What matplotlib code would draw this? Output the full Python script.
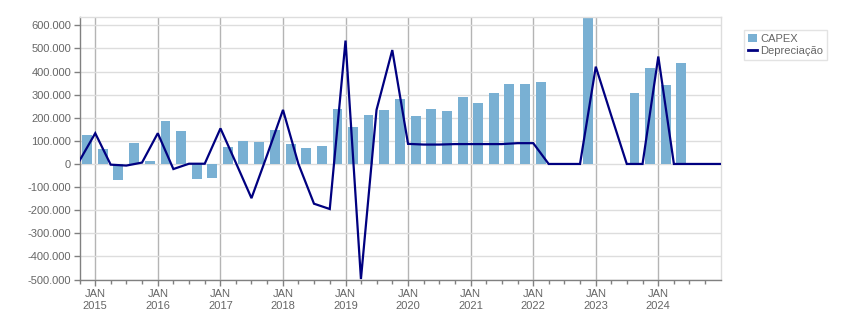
import matplotlib
matplotlib.use("Agg")
import matplotlib.pyplot as plt
import matplotlib.dates as mdates
from matplotlib.ticker import FuncFormatter, MultipleLocator
from matplotlib.patches import Patch
from matplotlib.lines import Line2D
import datetime as dt

# Quarterly CAPEX (bars, centred mid-quarter), Q4 2014 .. Q4 2024
capex_quarters = [(2014, 4)] + [(y, q) for y in range(2015, 2025) for q in (1, 2, 3, 4)]
capex = [125000,
         65000, -68000, 91000, 13000,
         186000, 143000, -65000, -61000,
         74000, 100000, 95000, 147000,
         87000, 69000, 78000, 238000,
         160000, 212000, 234000, 281000,
         208000, 238000, 229000, 290000,
         264000, 307000, 346000, 346000,
         355000, 0, 0, 632000,
         0, 2000, 307000, 416000,
         342000, 437000, 0, 0]

# Depreciação (line, at quarter boundaries), Oct 2014 .. Jan 2025
dep_dates = [(2014, 10)] + [(y, m) for y in range(2015, 2025) for m in (1, 4, 7, 10)] + [(2025, 1)]
depreciacao = [14000,
               133000, -3000, -7000, 6000,
               133000, -22000, 1000, 1000,
               154000, 5000, -148000, 40000,
               234000, 0, -172000, -195000,
               534000, -498000, 234000, 493000,
               87000, 84000, 84000, 86000,
               86000, 86000, 86000, 90000,
               90000, 0, 0, 0,
               421000, 210000, 0, 0,
               465000, 0, 0, 0,
               0]

year_labels = list(range(2015, 2025))

bar_x = [dt.date(y, 3 * q - 1, 15) for y, q in capex_quarters]
line_x = [dt.date(y, m, 1) for y, m in dep_dates]

BAR_C = "#79b0d3"
LINE_C = "#000080"
TXT_C = "#666666"

plt.rcParams['font.family'] = ['Liberation Sans', 'DejaVu Sans']

fig = plt.figure(figsize=(8.51, 3.13), dpi=100)
ax = fig.add_axes([79.5 / 851, 1 - 279.5 / 313, (721 - 79.5) / 851, (279.5 - 17) / 313])

ax.bar(bar_x, capex, width=58, color=BAR_C, zorder=2)
ax.plot(line_x, depreciacao, color=LINE_C, lw=1.6, zorder=3, solid_joinstyle='miter')

ax.set_xlim(dt.date(2014, 10, 1), dt.date(2025, 1, 1))
ax.set_ylim(-500000, 636000)

ax.yaxis.set_major_locator(MultipleLocator(100000))
ax.yaxis.set_major_formatter(FuncFormatter(lambda v, p: "0" if abs(v) < 1 else f"{int(round(v)):,}".replace(",", ".")))

ax.set_xticks([dt.date(y, 1, 1) for y in year_labels])
ax.set_xticklabels([f"JAN\n{y}" for y in year_labels])
ax.xaxis.set_minor_locator(mdates.MonthLocator(bymonth=[4, 7, 10]))

ax.grid(axis='y', color='#dddddd', lw=1, zorder=0)
ax.grid(axis='x', which='major', color='#b4b4b4', lw=1, zorder=0)
ax.set_axisbelow(True)

for s in ('top', 'right'):
    ax.spines[s].set_color('#dddddd')
    ax.spines[s].set_linewidth(1)
for s in ('left', 'bottom'):
    ax.spines[s].set_color('#808080')
    ax.spines[s].set_linewidth(1)

ax.tick_params(axis='both', which='major', colors='#808080', labelcolor=TXT_C, labelsize=8, length=4, width=1)
ax.tick_params(axis='x', which='minor', colors='#808080', length=3, width=1)
ax.tick_params(axis='y', pad=2)
ax.tick_params(axis='x', pad=3)
for lbl in ax.get_xticklabels():
    lbl.set_linespacing(1.25)

handles = [Patch(facecolor=BAR_C, edgecolor='none', label='CAPEX'),
           Line2D([0], [0], color=LINE_C, lw=2, label='Depreciação')]
leg = fig.legend(handles=handles, loc='upper left', bbox_to_anchor=(744 / 851, 1 - 30 / 313),
                 frameon=True, fontsize=8, labelcolor=TXT_C, handlelength=0.8, handleheight=0.8,
                 handletextpad=0.3, borderpad=0.35, labelspacing=0.15, borderaxespad=0,
                 fancybox=False)
leg.get_frame().set_edgecolor('#dddddd')
leg.get_frame().set_linewidth(1)

fig.savefig("out.png", dpi=100)
